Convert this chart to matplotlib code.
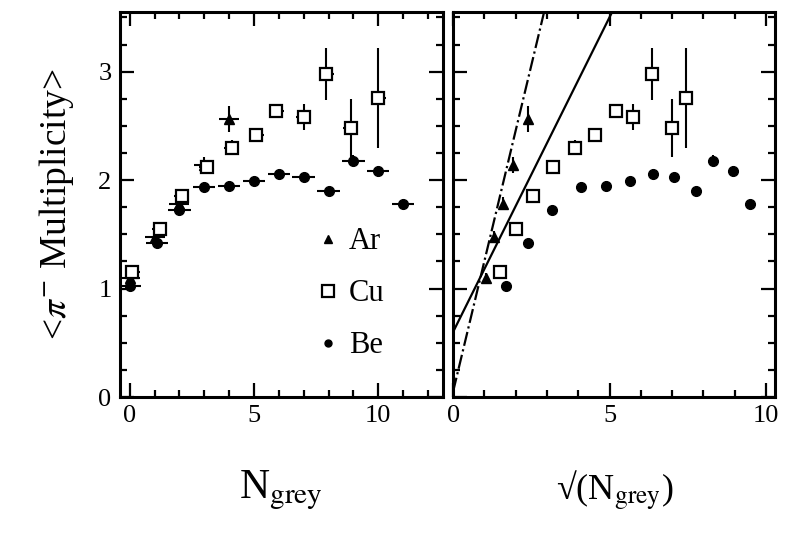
import matplotlib
matplotlib.use("Agg")
import matplotlib.pyplot as plt
from matplotlib.ticker import MultipleLocator

plt.rcParams['font.family'] = ['Liberation Serif', 'DejaVu Serif']
plt.rcParams['mathtext.fontset'] = 'stix'

# Cu (open squares)
cu_n = [0.1, 1.2, 2.1, 3.1, 4.1, 5.1, 5.9, 7.0, 7.9, 8.9, 10.0]
cu_sq = [1.5, 2.0, 2.55, 3.2, 3.9, 4.55, 5.2, 5.75, 6.35, 7.0, 7.45]
cu_y = [1.15, 1.55, 1.85, 2.12, 2.30, 2.42, 2.64, 2.58, 2.98, 2.48, 2.76]
cu_err = [0.04, 0.05, 0.05, 0.05, 0.07, 0.06, 0.06, 0.12, 0.24, 0.27, 0.46]

# Be (filled circles)
be_n = [0.0, 1.1, 2.0, 3.0, 4.0, 5.0, 6.0, 7.0, 8.0, 9.0, 10.0, 11.0]
be_sq = [1.7, 2.4, 3.15, 4.1, 4.9, 5.65, 6.4, 7.05, 7.75, 8.3, 8.95, 9.5]
be_y = [1.02, 1.42, 1.72, 1.94, 1.95, 1.99, 2.06, 2.03, 1.90, 2.18, 2.08, 1.78]
be_err = [0.04, 0.04, 0.04, 0.04, 0.04, 0.04, 0.04, 0.04, 0.04, 0.05, 0.05, 0.05]

# Ar (filled triangles)
ar_n = [0.0, 1.0, 2.0, 3.0, 4.0]
ar_sq = [1.05, 1.3, 1.6, 1.9, 2.4]
ar_y = [1.10, 1.48, 1.78, 2.14, 2.56]
ar_err = [0.04, 0.05, 0.06, 0.07, 0.12]

# straight lines in the right panel
solid_x = [0.0, 5.1]
solid_y = [0.60, 3.56]
dashdot_x = [0.0, 2.95]
dashdot_y = [0.05, 3.60]

fig = plt.figure(figsize=(7.88, 5.48), dpi=100)
ax1 = fig.add_axes([0.152, 0.2755, 0.41, 0.7026])
ax2 = fig.add_axes([0.575, 0.2755, 0.409, 0.7026])

ms_sq = 9
ms_dot = 7

# left panel: vs N_grey
ax1.errorbar(ar_n, ar_y, yerr=ar_err, xerr=0.4, fmt='^', color='k', ms=ms_dot,
             elinewidth=1.5, capsize=0)
ax1.errorbar(cu_n, cu_y, yerr=cu_err, xerr=0.3, fmt='s', color='k', mfc='white',
             mew=1.6, ms=ms_sq, elinewidth=1.5, capsize=0)
ax1.errorbar(be_n, be_y, yerr=be_err, xerr=0.45, fmt='o', color='k', ms=ms_dot,
             elinewidth=1.5, capsize=0)

# legend handles: plain markers only
h_ar, = ax1.plot([], [], '^', color='k', ms=6, label='Ar')
h_cu, = ax1.plot([], [], 's', color='k', mfc='white', mew=1.6, ms=8, label='Cu')
h_be, = ax1.plot([], [], 'o', color='k', ms=5, label='Be')

# right panel: vs sqrt(N_grey)
ax2.plot(solid_x, solid_y, '-', color='k', lw=1.6)
ax2.plot(dashdot_x, dashdot_y, '-.', color='k', lw=1.6)
ax2.errorbar(ar_sq, ar_y, yerr=ar_err, fmt='^', color='k', ms=ms_dot,
             elinewidth=1.5, capsize=0)
ax2.errorbar(cu_sq, cu_y, yerr=cu_err, fmt='s', color='k', mfc='white',
             mew=1.6, ms=ms_sq, elinewidth=1.5, capsize=0)
ax2.errorbar(be_sq, be_y, yerr=be_err, fmt='o', color='k', ms=ms_dot,
             elinewidth=1.5, capsize=0)

ax1.set_xlim(-0.4, 12.6)
ax2.set_xlim(0, 10.3)
for ax in (ax1, ax2):
    ax.set_ylim(0, 3.55)
    ax.xaxis.set_major_locator(MultipleLocator(5))
    ax.xaxis.set_minor_locator(MultipleLocator(1))
    ax.yaxis.set_major_locator(MultipleLocator(1))
    ax.yaxis.set_minor_locator(MultipleLocator(0.25))
    ax.tick_params(which='both', direction='in', top=True, right=True,
                   labelsize=19, width=1.6)
    ax.tick_params(which='major', length=10, pad=6)
    ax.tick_params(which='minor', length=5)
    for s in ax.spines.values():
        s.set_linewidth(2.2)
ax2.tick_params(labelleft=False)

ax1.set_ylabel(r'<$\pi^{-}$ Multiplicity>', fontsize=27, labelpad=16)
ax1.set_xlabel(r'N$_{\mathrm{grey}}$', fontsize=30, labelpad=30)
ax2.set_xlabel(r'√(N$_{\mathrm{grey}}$)', fontsize=26, labelpad=30)

ax1.legend(handles=[h_ar, h_cu, h_be], loc='lower left',
           bbox_to_anchor=(0.54, 0.04), frameon=False, fontsize=22,
           handletextpad=0.3, labelspacing=0.75, handlelength=0.8,
           borderpad=0.2)

fig.savefig('out.png', dpi=100)
